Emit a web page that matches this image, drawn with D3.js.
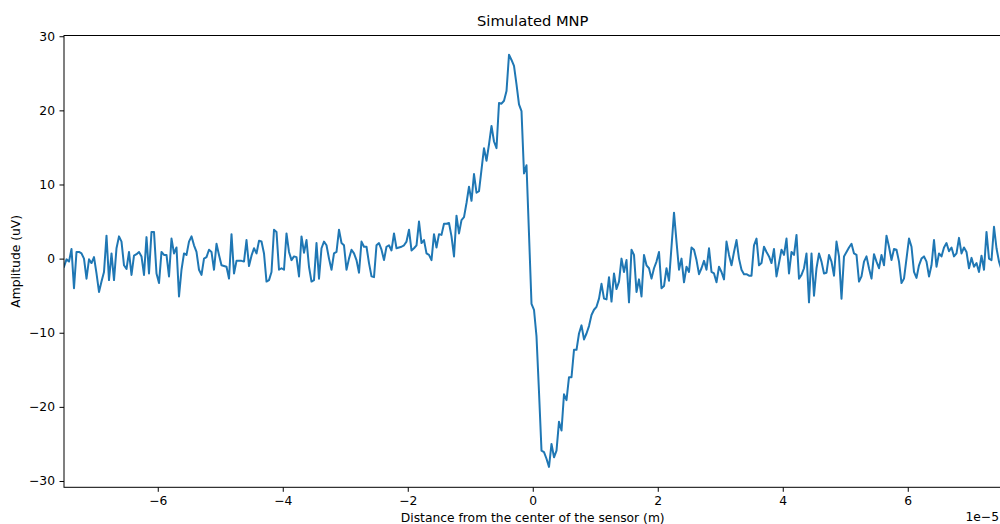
<!DOCTYPE html>
<html>
<head>
<meta charset="utf-8">
<script src="https://cdn.jsdelivr.net/npm/d3@7"></script>
<style>
  body { margin: 0; background: #fff; }
  svg { display: block; font-family: "DejaVu Sans", sans-serif; }
</style>
</head>
<body>
<div id="chart"></div>
<script>
// sample grid (units of 1e-5 m)
const xStart = -7.5;
const xStep = 0.04;

// amplitude in uV
const amplitude = [
  -1.1, -0.1, -0.4, 1.3, -4.0, 0.9, 0.9, 0.7, 0.0, -2.7,
  -0.1, -0.6, 0.2, -2.0, -4.5, -3.1, -1.8, 3.1, -2.9, 0.7,
  -2.9, 1.4, 3.0, 2.3, -0.9, -1.4, 0.9, -2.2, 0.4, 0.6,
  0.9, 0.3, -2.2, 2.9, -2.0, 3.6, 3.6, -2.0, -3.3, 0.9,
  0.5, 0.5, -2.4, 2.7, 0.7, 1.5,
  -5.1, -1.5, 0.7, 0.5, 2.3, 3.0, 1.8, 0.9, -1.5, -2.2,
  0.0, 0.2, 1.2, 0.9, -1.5, 2.0, 0.5, -0.9, -1.0, -1.1,
  -2.7, 3.3, -2.0, -0.3, -0.3, -0.3, -0.4, 2.5, -1.0, 0.4,
  1.4, 0.7, 2.4, 2.3, 0.7, -3.1, -2.9, -1.8, 3.9, 3.6,
  -1.5, -1.3, -1.5, 3.4, 0.9, -0.2, 0.3,
  0.2, -2.4, 3.0, 0.8, 2.5, -1.1, -3.1, -2.9, 2.1, -2.7,
  1.4, 2.3, 1.8, 0.0, -1.5, 0.7, 0.9, 3.9, 2.1, 1.8,
  -1.5, 0.0, 1.2, 0.7, -0.2, -1.9, 2.3, 1.6, 1.6, -0.6,
  -2.4, -2.5, 1.8, 2.1, 1.2, -0.2, 1.6, 1.8, 1.1, 3.4,
  1.4, 1.5, 1.6, 1.8, 2.3,
  3.9, 1.1, 1.4, 1.8, 5.0, 2.1, 2.5, 0.7, 0.5, -0.2,
  3.3, 1.5, 3.3, 3.2, 4.7, 4.7, 4.8, 3.0, 0.3, 5.8,
  3.4, 5.2, 5.6, 7.5,
  9.7, 7.8, 11.4, 8.9, 9.1, 12.0, 14.9, 13.2, 15.4, 17.9,
  15.8, 14.9, 21.0, 20.9, 21.3, 22.6, 27.5, 26.8, 26.0, 23.5,
  20.8, 19.9, 11.5, 12.6, 3.3, -6.1, -6.9, -10.5, -18.0, -25.9,
  -26.1, -27.0, -28.1,
  -25.0, -26.8, -25.9, -22.0, -23.2, -18.3, -19.1, -16.0, -16.0, -12.3,
  -12.3, -10.1, -9.0, -10.9, -10.1, -9.1, -7.6, -6.9, -6.5, -5.4,
  -3.4, -5.4, -5.5, -2.5, -5.8, -2.0, -4.1, -3.1, 0.0, -1.8,
  -0.2, -5.9, 1.2, 0.5, -4.5,
  -2.8, -5.1, 0.5, -0.9, -1.3, -2.7, -1.3, -0.4, 0.9, -4.0,
  -3.7, -1.3, -3.0, 1.6, 6.2, 2.3, -1.5, 0.0, -3.2, -1.1,
  -1.8, 1.5, 1.2, -0.2, -2.1, -1.3, -0.3, -1.5, 1.4, -1.8,
  -2.0, -3.2, -1.1, -1.8, -2.8, 2.3, 0.5, -0.9, 0.9, 2.5,
  0.0, -1.5, -2.1, -2.1, -2.3, -2.3,
  1.8, 2.7, -0.9, -0.6, 1.6, 0.9, 0.3, -0.6, 1.3, -2.4,
  -0.6, 1.2, 0.5, 2.7, -2.0, 0.9, 0.5, 3.2, -2.7, -2.2,
  -1.3, 0.7, -5.9, 0.7, -5.0, -1.3, 0.7, -0.4, -2.0, -1.9,
  0.5, -0.4, -2.3, 2.3, 0.3, -5.4, 0.3, 0.9, 1.5, 2.0,
  0.7, 0.5, -3.1, -2.4, -0.4,
  0.3, -1.3, -2.7, 0.6, -0.4, -1.3, 0.5, -0.9, 3.1, 1.6,
  -0.2, 1.3, 1.2, -0.4, -3.3, -2.7, 0.0, 2.7, 1.6, -1.8,
  -2.6, -0.9, 0.0, 0.3, -0.4, -2.4, -0.9, 2.5, -1.1, 0.7,
  0.3, 1.5, 2.1, 1.0, 1.5, 0.3, 0.7, 2.8, 0.7, 1.5,
  0.9, -1.3, 0.1, -1.1, -0.6, -1.8, 0.4, -1.5, 3.6, 0.0,
  -0.2, 4.3, 1.4, -0.4, -1.5
];

const xTicks = [-6, -4, -2, 0, 2, 4, 6];
const yTicks = [-30, -20, -10, 0, 10, 20, 30];

const W = 1000, H = 524;
const plot = { left: 64, right: 1001.5, top: 35.5, bottom: 487.3 };
const fontSize = "12.3px";

const svg = d3.select("#chart")
  .append("svg")
  .attr("width", W)
  .attr("height", H);

svg.append("rect").attr("width", W).attr("height", H).attr("fill", "#fff");

const x = d3.scaleLinear().domain([-7.5, 7.5]).range([plot.left, plot.right]);
const y = d3.scaleLinear().domain([-30.85, 30.1]).range([plot.bottom, plot.top]);

svg.append("clipPath")
  .attr("id", "clip")
  .append("rect")
  .attr("x", plot.left).attr("y", plot.top)
  .attr("width", plot.right - plot.left).attr("height", plot.bottom - plot.top);

const line = d3.line()
  .x((d, i) => x(xStart + i * xStep))
  .y(d => y(d));

svg.append("path")
  .datum(amplitude)
  .attr("clip-path", "url(#clip)")
  .attr("fill", "none")
  .attr("stroke", "#1f77b4")
  .attr("stroke-width", 2)
  .attr("stroke-linejoin", "round")
  .attr("stroke-linecap", "square")
  .attr("d", line);

// axes
const xAxis = d3.axisBottom(x).tickValues(xTicks).tickSize(4.5).tickPadding(4).tickFormat(d3.format("d"));
const yAxis = d3.axisLeft(y).tickValues(yTicks).tickSize(4.5).tickPadding(4.5).tickFormat(d3.format("d"));

const gx = svg.append("g").attr("transform", `translate(0,${plot.bottom})`).call(xAxis);
const gy = svg.append("g").attr("transform", `translate(${plot.left},0)`).call(yAxis);

[gx, gy].forEach(g => {
  g.select(".domain").remove();
  g.selectAll(".tick line").attr("stroke", "#000").attr("stroke-width", 1);
  g.selectAll(".tick text")
    .attr("fill", "#000")
    .attr("font-size", fontSize)
    .attr("font-family", "DejaVu Sans, sans-serif");
});

// spines
svg.append("rect")
  .attr("x", plot.left).attr("y", plot.top)
  .attr("width", plot.right - plot.left).attr("height", plot.bottom - plot.top)
  .attr("fill", "none")
  .attr("stroke", "#000")
  .attr("stroke-width", 1);

// texts
const midX = (plot.left + plot.right) / 2;

svg.append("text")
  .attr("x", midX).attr("y", 26)
  .attr("text-anchor", "middle")
  .attr("font-size", "14.7px")
  .text("Simulated MNP");

svg.append("text")
  .attr("x", midX).attr("y", 522)
  .attr("text-anchor", "middle")
  .attr("font-size", fontSize)
  .text("Distance from the center of the sensor (m)");

svg.append("text")
  .attr("transform", `translate(20,${(plot.top + plot.bottom) / 2}) rotate(-90)`)
  .attr("text-anchor", "middle")
  .attr("font-size", fontSize)
  .text("Amplitude (uV)");

svg.append("text")
  .attr("x", 999).attr("y", 521)
  .attr("text-anchor", "end")
  .attr("font-size", fontSize)
  .text("1e\u22125");
</script>
</body>
</html>
